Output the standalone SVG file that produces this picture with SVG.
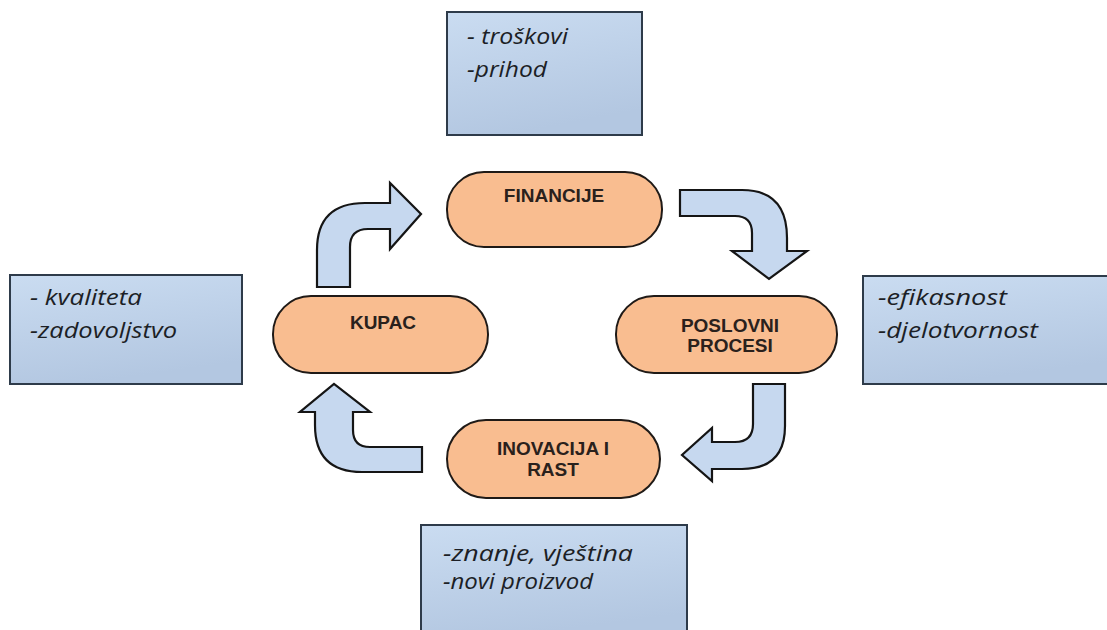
<svg xmlns="http://www.w3.org/2000/svg" width="1107" height="630" viewBox="0 0 1107 630">
  <defs>
    <linearGradient id="boxGrad" x1="0" y1="0" x2="0.3" y2="1">
      <stop offset="0" stop-color="#cadcf1"/>
      <stop offset="1" stop-color="#b3c7e1"/>
    </linearGradient>
    <style>
      .box { fill: url(#boxGrad); stroke: #2e3b4a; stroke-width: 2; }
      .pill { fill: #f9bd90; stroke: #1f1a17; stroke-width: 2; }
      .arrow { fill: #c6d8ef; stroke: #151515; stroke-width: 2.2; stroke-linejoin: miter; }
      .ptxt { font-family: "Liberation Sans", Arial, sans-serif; font-weight: bold; font-size: 19px; fill: #2a211c; text-anchor: middle; }
      .btxt { font-family: "Open Sans", "Liberation Sans", sans-serif; font-style: italic; font-size: 21px; fill: #1c1f26; }
    </style>
  </defs>
  <rect width="1107" height="630" fill="#ffffff"/>

  <g id="box-top">
    <rect class="box" x="447" y="12" width="195" height="123"/>
    <text class="btxt" x="467" y="44" textLength="101" lengthAdjust="spacingAndGlyphs">- troškovi</text>
    <text class="btxt" x="467" y="77" textLength="80" lengthAdjust="spacingAndGlyphs">-prihod</text>
  </g>
  <g id="box-left">
    <rect class="box" x="10" y="275" width="232" height="109"/>
    <text class="btxt" x="30" y="305" textLength="112" lengthAdjust="spacingAndGlyphs">- kvaliteta</text>
    <text class="btxt" x="30" y="338" textLength="147" lengthAdjust="spacingAndGlyphs">-zadovoljstvo</text>
  </g>
  <g id="box-right">
    <rect class="box" x="863" y="276" width="250" height="108"/>
    <text class="btxt" x="878" y="305" textLength="129" lengthAdjust="spacingAndGlyphs">-efikasnost</text>
    <text class="btxt" x="878" y="338" textLength="160" lengthAdjust="spacingAndGlyphs">-djelotvornost</text>
  </g>
  <g id="box-bottom">
    <rect class="box" x="421" y="525" width="266" height="112"/>
    <text class="btxt" x="443" y="561" textLength="190" lengthAdjust="spacingAndGlyphs">-znanje, vještina</text>
    <text class="btxt" x="443" y="589" textLength="150" lengthAdjust="spacingAndGlyphs">-novi proizvod</text>
  </g>

  <g id="node-financije">
    <rect class="pill" x="447" y="172" width="215" height="75" rx="37" ry="37"/>
    <text class="ptxt" x="554" y="202">FINANCIJE</text>
  </g>
  <g id="node-kupac">
    <rect class="pill" x="273" y="296" width="215" height="77" rx="38" ry="38"/>
    <text class="ptxt" x="383" y="329">KUPAC</text>
  </g>
  <g id="node-poslovni">
    <rect class="pill" x="616" y="296" width="221" height="77" rx="38" ry="38"/>
    <text class="ptxt" x="730" y="332">POSLOVNI</text>
    <text class="ptxt" x="730" y="352">PROCESI</text>
  </g>
  <g id="node-inovacija">
    <rect class="pill" x="447" y="420" width="213" height="78" rx="39" ry="39"/>
    <text class="ptxt" x="553" y="455">INOVACIJA I</text>
    <text class="ptxt" x="553" y="476">RAST</text>
  </g>

  <g id="connectors">
    <path class="arrow" d="M317,287 L317,250 Q317,203 365,203 L390,203 L390,183 L421,214 L390,249 L390,229 L368,229 Q350,229 350,247 L350,287 Z"/>
    <path class="arrow" d="M680,190 L742,190 Q787,190 787,238 L787,251 L807,251 L769,279 L732,251 L752,251 L752,233 Q752,216 735,216 L680,216 Z"/>
    <path class="arrow" d="M753,384 L785,384 L785,426 Q785,469 742,469 L712,469 L712,481 L682,455 L712,428 L712,442 L735,442 Q753,442 753,424 Z"/>
    <path class="arrow" d="M422,447 L422,472 L362,472 Q315,472 315,425 L315,412 L300,412 L334,384 L370,412 L353,412 L353,430 Q353,447 370,447 Z"/>
  </g>
</svg>
